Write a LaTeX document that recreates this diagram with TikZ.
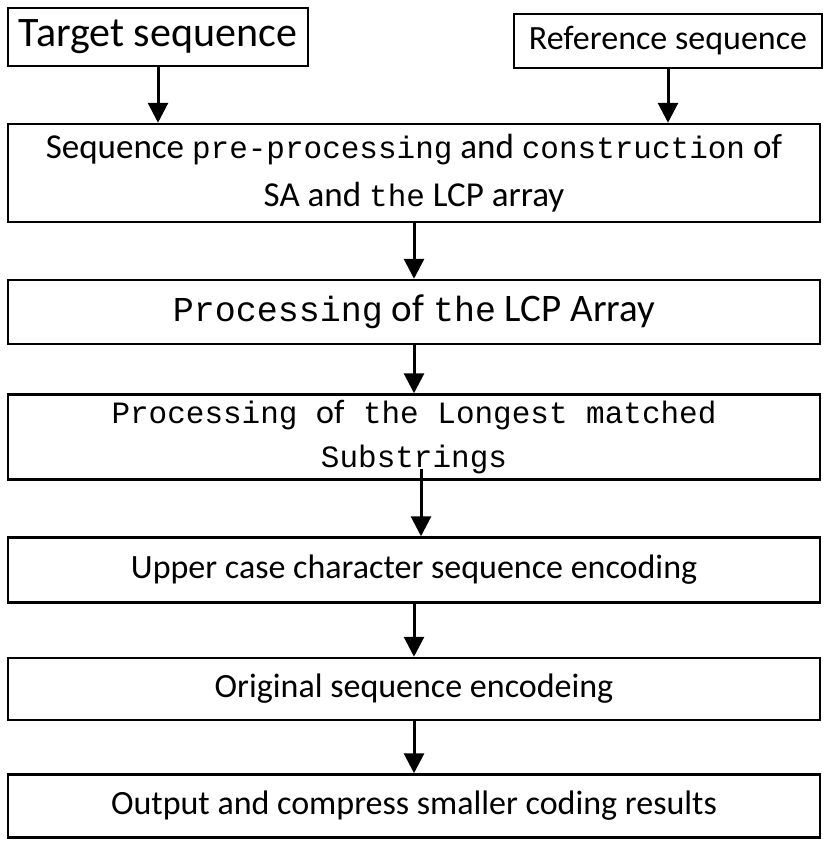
\documentclass[tikz,border=0pt]{standalone}
\usepackage{fontspec}
\setmainfont{Carlito}
\setmonofont{Liberation Mono}
\usetikzlibrary{arrows.meta}
\begin{document}
\begin{tikzpicture}[x=1pt,y=-1pt,
        every node/.style={draw,line width=2.5pt,align=center,inner sep=0pt},
        wide/.style={minimum width=812,font=\fontsize{34}{40}\selectfont},
        flow/.style={line width=3pt,-{Triangle[width=20,length=20]}}]
        \useasboundingbox (0,0) rectangle (826,844);
        \node[minimum width=300,minimum height=58,font=\fontsize{42}{48}\selectfont] (target) at (158,37) {Target sequence};
        \node[minimum width=308,minimum height=54,font=\fontsize{34}{40}\selectfont] (ref) at (668,41) {Reference sequence};
        \node[wide,minimum height=98,font=\fontsize{35}{48}\selectfont] (pre) at (414,173)
            {Sequence {\ttfamily\fontsize{31}{48}\selectfont pre-processing} and {\ttfamily\fontsize{31}{48}\selectfont construction} of\\SA and {\ttfamily\fontsize{31}{48}\selectfont the} LCP array};
        \node[wide,minimum height=64,font=\fontsize{39}{40}\selectfont] (lcp) at (414,312)
            {{\ttfamily\fontsize{35}{40}\selectfont Processing} of {\ttfamily\fontsize{35}{40}\selectfont the} LCP Array};
        \node[wide,minimum height=85,font=\ttfamily\fontsize{31}{44}\selectfont] (sub) at (414,437)
            {Processing {\rmfamily\fontsize{34}{44}\selectfont of} the Longest matched\\Substrings};
        \node[wide,minimum height=65] (upper) at (414,570) {Upper case character sequence encoding};
        \node[wide,minimum height=62] (orig) at (414,689) {Original sequence encodeing};
        \node[wide,minimum height=63] (out) at (414,806) {Output and compress smaller coding results};
        \draw[flow] (target) -- (target |- pre.north);
        \draw[flow] (ref) -- (ref |- pre.north);
        \draw[flow] (pre) -- (lcp);
        \draw[flow] (lcp) -- (sub);
        \draw[flow] ([xshift=7]sub.south) ++(0,-12) -- ([xshift=7]upper.north);
        \draw[flow] (upper) -- (orig);
        \draw[flow] (orig) -- (out);
\end{tikzpicture}
\end{document}
